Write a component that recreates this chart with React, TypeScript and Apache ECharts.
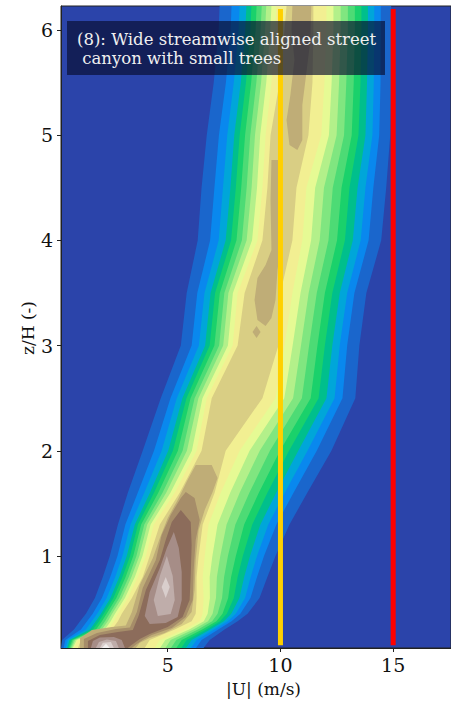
import React, { useEffect, useRef } from 'react';
import * as echarts from 'echarts';

// Heights (z/H) at which the contour band edges were read
const heights = [0.125, 0.2, 0.3, 0.38, 0.45, 0.6, 0.8, 1.0, 1.3, 1.6, 2.0, 2.5, 3.0, 3.5, 4.0, 4.5, 5.0, 5.5, 6.0, 6.23];

// Left edge |U| (m/s) of each filled contour level 1..11, per height
const leftEdges = [
  [0.27, 0.31, 0.84, 1.11, 1.37, 1.77, 2.12, 2.43, 2.79, 3.23, 3.89, 4.69, 5.58, 5.84, 6.33, 6.50, 6.73, 7.04, 7.26, 7.30],
  [0.38, 0.46, 1.15, 1.42, 1.67, 2.08, 2.45, 2.77, 3.12, 3.67, 4.39, 5.12, 6.06, 6.31, 6.88, 7.07, 7.27, 7.58, 7.79, 7.83],
  [0.47, 0.56, 1.37, 1.63, 1.87, 2.29, 2.67, 2.99, 3.35, 3.96, 4.73, 5.40, 6.38, 6.63, 7.26, 7.45, 7.64, 7.93, 8.14, 8.19],
  [0.54, 0.64, 1.55, 1.81, 2.04, 2.46, 2.85, 3.18, 3.54, 4.21, 5.02, 5.65, 6.66, 6.90, 7.57, 7.78, 7.95, 8.24, 8.44, 8.49],
  [0.59, 0.71, 1.68, 1.95, 2.16, 2.59, 2.99, 3.33, 3.68, 4.39, 5.23, 5.83, 6.86, 7.10, 7.81, 8.02, 8.19, 8.47, 8.67, 8.71],
  [0.64, 0.77, 1.82, 2.08, 2.29, 2.72, 3.13, 3.47, 3.82, 4.58, 5.45, 6.01, 7.07, 7.31, 8.05, 8.26, 8.43, 8.70, 8.90, 8.94],
  [0.69, 0.83, 1.96, 2.22, 2.42, 2.85, 3.27, 3.61, 3.96, 4.77, 5.66, 6.19, 7.28, 7.51, 8.29, 8.50, 8.66, 8.93, 9.12, 9.17],
  [0.74, 0.89, 2.08, 2.34, 2.53, 2.97, 3.39, 3.74, 4.09, 4.93, 5.85, 6.36, 7.46, 7.69, 8.50, 8.72, 8.87, 9.14, 9.32, 9.37],
  [0.79, 0.96, 2.21, 2.47, 2.66, 3.10, 3.54, 3.88, 4.24, 5.12, 6.07, 6.54, 7.67, 7.89, 8.74, 8.96, 9.10, 9.37, 9.55, 9.60],
  [0.84, 1.02, 2.35, 2.61, 2.79, 3.23, 3.67, 4.03, 4.38, 5.31, 6.28, 6.73, 7.88, 8.10, 8.98, 9.20, 9.34, 9.60, 9.78, 9.82],
  [1.02, 1.15, 2.52, 2.79, 2.96, 3.41, 3.89, 4.20, 4.65, 5.53, 6.50, 6.95, 8.10, 8.41, 9.20, 9.42, 9.56, 9.96, 10.18, 10.27],
];

// Right edge |U| (m/s) of each filled contour level 1..11, per height
const rightEdges = [
  [6.59, 6.86, 7.52, 8.10, 8.54, 9.07, 9.42, 9.78, 10.40, 11.19, 12.26, 13.32, 13.50, 13.81, 14.47, 14.69, 14.87, 14.91, 14.91, 14.91],
  [6.25, 6.50, 7.24, 7.83, 8.22, 8.67, 8.96, 9.27, 9.82, 10.58, 11.61, 12.75, 12.96, 13.28, 13.91, 14.12, 14.38, 14.44, 14.45, 14.45],
  [6.03, 6.28, 7.06, 7.66, 8.02, 8.43, 8.68, 8.96, 9.46, 10.19, 11.20, 12.40, 12.63, 12.96, 13.56, 13.77, 14.08, 14.14, 14.16, 14.16],
  [5.81, 6.06, 6.88, 7.49, 7.82, 8.18, 8.39, 8.65, 9.11, 9.81, 10.79, 12.04, 12.30, 12.63, 13.21, 13.42, 13.77, 13.84, 13.88, 13.88],
  [5.60, 5.84, 6.71, 7.32, 7.62, 7.93, 8.10, 8.33, 8.75, 9.42, 10.38, 11.69, 11.97, 12.30, 12.86, 13.06, 13.46, 13.55, 13.59, 13.59],
  [5.38, 5.62, 6.53, 7.16, 7.43, 7.68, 7.81, 8.02, 8.39, 9.04, 9.98, 11.34, 11.64, 11.97, 12.51, 12.71, 13.16, 13.25, 13.30, 13.30],
  [5.14, 5.38, 6.34, 6.97, 7.21, 7.41, 7.50, 7.67, 8.00, 8.62, 9.53, 10.95, 11.27, 11.61, 12.13, 12.32, 12.82, 12.92, 12.99, 12.99],
  [4.90, 5.13, 6.14, 6.79, 6.99, 7.14, 7.18, 7.33, 7.61, 8.19, 9.08, 10.56, 10.91, 11.25, 11.74, 11.93, 12.49, 12.60, 12.67, 12.67],
  [4.66, 4.89, 5.95, 6.60, 6.77, 6.87, 6.86, 6.98, 7.21, 7.77, 8.63, 10.17, 10.54, 10.89, 11.36, 11.54, 12.15, 12.27, 12.35, 12.35],
  [4.42, 4.65, 5.75, 6.42, 6.55, 6.59, 6.55, 6.64, 6.81, 7.35, 8.19, 9.78, 10.18, 10.53, 10.97, 11.15, 11.81, 11.95, 12.04, 12.04],
  [3.98, 4.20, 5.31, 6.06, 6.24, 6.28, 6.28, 6.37, 6.55, 7.08, 7.57, 9.20, 9.91, 10.00, 10.53, 10.71, 11.24, 11.42, 11.46, 11.46],
];

// terrain colormap, one colour per filled level (0 = background)
const levelColors = [
  '#2b44aa', '#1a66cc', '#0988ee', '#00a6d9', '#00bf8c', '#1ad16b', '#4ddb75',
  '#80e680', '#b3f08a', '#e6fa94', '#f2ef92', '#d9ce84', '#bfad77', '#a68d69',
  '#8c6c5b', '#8c6c65', '#a68d87', '#bfadaa', '#d9cecc', '#f2efee',
];

// Inner contour islands: [|U|, z/H] vertices
const lowerCore12 = [[6.24, 1.865], [6.95, 1.865], [7.21, 1.741], [6.99, 1.608], [6.64, 1.437], [6.37, 1.247], [6.24, 0.962], [6.19, 0.677], [6.06, 0.468], [5.62, 0.354], [4.87, 0.268], [4.20, 0.221], [3.76, 0.174], [3.58, 0.125], [1.11, 0.125], [1.11, 0.221], [1.64, 0.297], [2.52, 0.325], [3.14, 0.340], [3.41, 0.468], [3.76, 0.724], [4.34, 0.981], [4.65, 1.171], [5.00, 1.361], [5.44, 1.532], [5.88, 1.722]];
const topColumn12 = [[10.53, 6.23], [11.37, 6.23], [11.33, 5.905], [11.11, 5.525], [10.97, 5.287], [10.97, 4.954], [10.75, 4.859], [10.40, 4.907], [10.27, 5.145], [10.44, 5.382], [10.62, 5.715], [10.49, 6.0]];
const midStrip12 = [[9.60, 4.764], [10.0, 4.764], [10.0, 3.909], [9.87, 3.719], [9.78, 3.433], [9.60, 3.262], [9.34, 3.186], [8.98, 3.243], [8.85, 3.433], [8.98, 3.643], [9.34, 3.766], [9.60, 3.909], [9.56, 4.384]];
const diamond12 = [[8.94, 3.186], [9.12, 3.129], [8.94, 3.072], [8.76, 3.129]];
const lowerCore13 = [[5.80, 1.608], [6.19, 1.551], [6.42, 1.342], [6.24, 1.152], [6.15, 0.867], [6.11, 0.582], [5.80, 0.420], [5.18, 0.316], [4.29, 0.249], [3.89, 0.202], [3.58, 0.155], [3.41, 0.125], [1.28, 0.125], [1.28, 0.211], [1.86, 0.268], [2.70, 0.306], [3.32, 0.320], [3.63, 0.468], [3.89, 0.696], [4.47, 0.962], [4.73, 1.200], [5.13, 1.390], [5.58, 1.551]];
const lowerCore14 = [[5.58, 1.437], [6.02, 1.323], [6.06, 1.105], [6.02, 0.819], [5.97, 0.582], [5.66, 0.420], [5.00, 0.325], [4.20, 0.259], [3.76, 0.211], [3.41, 0.155], [3.23, 0.125], [1.46, 0.125], [1.46, 0.192], [1.99, 0.249], [2.79, 0.278], [3.45, 0.297], [3.72, 0.439], [4.03, 0.677], [4.65, 0.962], [4.91, 1.152], [5.18, 1.323]];
const lowerCore16 = [[5.27, 1.228], [5.49, 1.076], [5.62, 0.848], [5.62, 0.582], [5.44, 0.420], [4.91, 0.363], [4.20, 0.354], [3.98, 0.430], [4.20, 0.658], [4.65, 0.886], [4.96, 1.076]];
const bottomBlob16 = [[1.59, 0.125], [1.68, 0.192], [1.99, 0.225], [2.61, 0.230], [2.96, 0.202], [3.10, 0.125]];
const lowerCore17 = [[4.96, 1.0], [5.22, 0.810], [5.31, 0.582], [5.13, 0.449], [4.56, 0.430], [4.38, 0.582], [4.65, 0.810]];
const bottomBlob17 = [[1.81, 0.125], [1.95, 0.183], [2.30, 0.206], [2.70, 0.192], [2.83, 0.125]];
const lowerCore18 = [[4.91, 0.800], [5.09, 0.705], [4.91, 0.601], [4.73, 0.705]];
const bottomBlob18 = [[1.99, 0.125], [2.12, 0.174], [2.48, 0.183], [2.61, 0.125]];
const bottomBlob19 = [[2.08, 0.125], [2.26, 0.165], [2.43, 0.125]];

const islands = [
  { level: 12, points: lowerCore12 },
  { level: 12, points: topColumn12 },
  { level: 12, points: midStrip12 },
  { level: 12, points: diamond12 },
  { level: 13, points: lowerCore13 },
  { level: 14, points: lowerCore14 },
  { level: 16, points: lowerCore16 },
  { level: 16, points: bottomBlob16 },
  { level: 17, points: lowerCore17 },
  { level: 17, points: bottomBlob17 },
  { level: 18, points: lowerCore18 },
  { level: 18, points: bottomBlob18 },
  { level: 19, points: bottomBlob19 },
];

const xTicks = [5, 10, 15];
const yTicks = [1, 2, 3, 4, 5, 6];
const referenceSpeeds = [10, 15];
const referenceColors = ['#ffd000', '#ff0000'];
const referenceSpan = [0.15, 6.2];
const annotation = '(8): Wide streamwise aligned street\n canyon with small trees';
const xTitle = '|U| (m/s)';
const yTitle = 'z/H (-)';

export default function App() {
  const ref = useRef<HTMLDivElement>(null);

  useEffect(() => {
    if (!ref.current) return;
    const chart = echarts.init(ref.current, null, { renderer: 'svg' });

    const bands = leftEdges.map((lefts, k) => ({
      color: levelColors[k + 1],
      points: [
        ...heights.map((z, i) => [lefts[i], z]),
        ...heights.map((z, i) => [rightEdges[k][i], z]).reverse(),
      ],
    }));
    const polys = [
      ...bands,
      ...islands.map((isl) => ({ color: levelColors[isl.level], points: isl.points })),
    ];

    const font = 'DejaVu Serif';

    chart.setOption({
      animation: false,
      backgroundColor: '#ffffff',
      grid: {
        left: 61,
        top: 6,
        right: -1,
        bottom: 55,
        show: true,
        backgroundColor: levelColors[0],
        borderColor: '#222',
        borderWidth: 1,
      },
      xAxis: {
        type: 'value',
        min: 0.265,
        max: 17.565,
        axisLine: { show: true, lineStyle: { color: '#222', width: 1 } },
        axisTick: { show: true, length: 4, customValues: xTicks, lineStyle: { color: '#222' } },
        axisLabel: { customValues: xTicks, fontSize: 19, fontFamily: font, color: '#111', margin: 7 },
        splitLine: { show: false },
      },
      yAxis: {
        type: 'value',
        min: 0.125,
        max: 6.228,
        axisLine: { show: true, lineStyle: { color: '#222', width: 1 } },
        axisTick: { show: true, length: 4, customValues: yTicks, lineStyle: { color: '#222' } },
        axisLabel: { customValues: yTicks, fontSize: 19, fontFamily: font, color: '#111', margin: 8 },
        splitLine: { show: false },
      },
      series: [
        {
          type: 'custom',
          coordinateSystem: 'cartesian2d',
          clip: true,
          silent: true,
          z: 2,
          data: polys.map((p, i) => [p.points[0][0], p.points[0][1], i]),
          renderItem: (params: any, api: any) => {
            const p = polys[params.dataIndex];
            return {
              type: 'polygon',
              shape: { points: p.points.map((pt) => api.coord(pt)) },
              style: { fill: p.color },
            };
          },
        },
        ...referenceSpeeds.map((v, i) => ({
          type: 'line',
          silent: true,
          z: 5,
          symbol: 'none',
          data: referenceSpan.map((z) => [v, z]),
          lineStyle: { color: referenceColors[i], width: 5, cap: 'butt' },
        })),
      ],
      graphic: [
        {
          type: 'rect',
          z: 100,
          shape: { x: 67, y: 21, width: 318, height: 54 },
          style: { fill: 'rgba(8,12,45,0.66)' },
        },
        {
          type: 'text',
          z: 101,
          x: 77,
          y: 30,
          style: {
            text: annotation,
            fill: '#f0f0f0',
            fontSize: 16.5,
            fontFamily: font,
            lineHeight: 19,
          },
        },
        {
          type: 'text',
          z: 101,
          x: 263.5,
          y: 689,
          style: {
            text: xTitle,
            fill: '#111',
            fontSize: 17,
            fontFamily: font,
            align: 'center',
            verticalAlign: 'middle',
          },
        },
        {
          type: 'text',
          z: 101,
          x: 28,
          y: 328,
          rotation: Math.PI / 2,
          style: {
            text: yTitle,
            fill: '#111',
            fontSize: 17,
            fontFamily: font,
            align: 'center',
            verticalAlign: 'middle',
          },
        },
      ],
    });

    return () => chart.dispose();
  }, []);

  return (
    <div
      ref={ref}
      style={{ position: 'fixed', left: 0, top: 0, width: 451, height: 703 }}
    />
  );
}
